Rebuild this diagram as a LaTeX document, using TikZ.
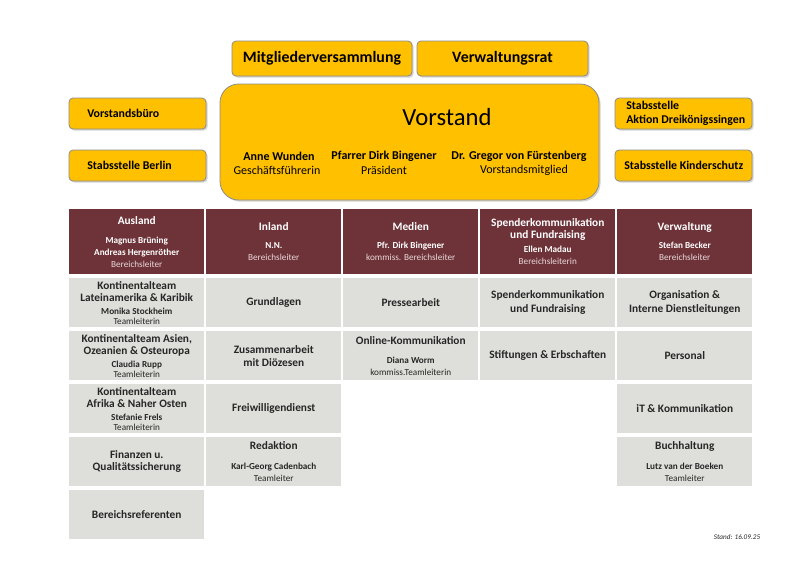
\documentclass[tikz,border=0pt]{standalone}
\usepackage{fontspec}
\setmainfont{Carlito}
\usetikzlibrary{shadows}
\definecolor{gold}{HTML}{FFC000}
\definecolor{maroon}{HTML}{6D3339}
\definecolor{cellgray}{HTML}{DEDFDA}
\definecolor{txt}{HTML}{262626}
\definecolor{rolecol}{HTML}{E8D8DA}
\definecolor{goldedge}{HTML}{8C8C8C}
\newcommand\ttl{\fontsize{8.5}{9}\selectfont\bfseries}
\newcommand\nm{\fontsize{6.9}{9}\selectfont\bfseries}
\newcommand\rl{\fontsize{6.9}{9}\selectfont}
\tikzset{
  goldbox/.style={draw=goldedge, line width=0.6pt, fill=gold, rounded corners=3pt,
    drop shadow={shadow xshift=1.2pt, shadow yshift=-1.2pt, opacity=0.35}},
  headcell/.style={fill=maroon, text=white, anchor=north west, inner sep=0pt, align=center,
    minimum width=101.25pt, minimum height=48.75pt, font=\fontsize{6.9}{9}\selectfont},
  graycell/.style={fill=cellgray, text=txt, anchor=north west, inner sep=0pt, align=center,
    minimum width=101.25pt, minimum height=36.75pt, font=\fontsize{6.9}{9}\selectfont},
  boxtext/.style={font=\fontsize{8.9}{10.5}\selectfont\bfseries, text=black, align=left, inner sep=0pt},
  vname/.style={font=\fontsize{9}{10}\selectfont\bfseries},
  vrole/.style={font=\fontsize{9}{10}\selectfont},
}
\begin{document}
\begin{tikzpicture}[x=0.75pt, y=-0.75pt]
\useasboundingbox (0,0) rectangle (800,565);
% top boxes
\draw[goldbox] (232,41) rectangle (412,76) node[midway, font=\fontsize{11.9}{13}\selectfont\bfseries] (mv) {Mitgliederversammlung};
\draw[goldbox] (417,41) rectangle (588,76) node[midway, font=\fontsize{11.9}{13}\selectfont\bfseries] (vr) {Verwaltungsrat};
\draw[goldbox, rounded corners=14pt] (220,84) rectangle (599,200);
\node[font=\fontsize{18.5}{20}\selectfont] (vs) at (447,117) {Vorstand};
\node[vname] (n1) at (279,156) {Anne Wunden};
\node[vname] (n2) at (384,156) {Pfarrer Dirk Bingener};
\node[vname] (n3) at (519,156) {Dr. Gregor von Fürstenberg};
\node[vrole] (r1) at (277,170) {Geschäftsführerin};
\node[vrole] (r2) at (384,170) {Präsident};
\node[vrole] (r3) at (524,170) {Vorstandsmitglied};
% side boxes
\draw[goldbox] (69,98) rectangle (206,129);
\node[boxtext, anchor=west] (vb) at (87,113.5) {Vorstandsbüro};
\draw[goldbox] (69,150) rectangle (206,181);
\node[boxtext, anchor=west] (sb) at (87,165.5) {Stabsstelle Berlin};
\draw[goldbox] (615,98) rectangle (752,129);
\node[boxtext, anchor=west] (sd) at (626,113.5) {Stabsstelle\\Aktion Dreikönigssingen};
\draw[goldbox] (615,150) rectangle (752,181);
\node[boxtext, anchor=west] (sk) at (624,165.5) {Stabsstelle Kinderschutz};
% header row
\node[headcell] (h1) at (69,209) {{\ttl Ausland}\\[5pt]{\nm Magnus Brüning}\\{\nm Andreas Hergenröther}\\{\rl\color{rolecol}Bereichsleiter}};
\node[headcell] (h2) at (206,209) {{\ttl Inland}\\[4.5pt]{\nm N.N.}\\{\rl\color{rolecol}Bereichsleiter}};
\node[headcell] (h3) at (343,209) {{\ttl Medien}\\[4.5pt]{\nm Pfr. Dirk Bingener}\\{\rl\color{rolecol}kommiss. Bereichsleiter}};
\node[headcell] (h4) at (480,209) {{\ttl Spenderkommunikation}\\{\ttl und Fundraising}\\[1.5pt]{\nm Ellen Madau}\\{\rl\color{rolecol}Bereichsleiterin}};
\node[headcell] (h5) at (617,209) {{\ttl Verwaltung}\\[4.5pt]{\nm Stefan Becker}\\{\rl\color{rolecol}Bereichsleiter}};
% row 1
\node[graycell] (c11) at (69,278) {{\ttl Kontinentalteam}\\{\ttl Lateinamerika \& Karibik}\\[0.5pt]{\nm Monika Stockheim}\\[-1.5pt]{\rl Teamleiterin}};
\node[graycell] (c12) at (206,278) {{\ttl Grundlagen}};
\node[graycell] (c13) at (343,278) {{\ttl Pressearbeit}};
\node[graycell] (c14) at (480,278) {{\ttl Spenderkommunikation}\\[1.5pt]{\ttl und Fundraising}};
\node[graycell] (c15) at (617,278) {{\ttl Organisation \&}\\[1.5pt]{\ttl Interne Dienstleitungen}};
% row 2
\node[graycell] (c21) at (69,331) {{\ttl Kontinentalteam Asien,}\\{\ttl Ozeanien \& Osteuropa}\\[0.5pt]{\nm Claudia Rupp}\\[-1.5pt]{\rl Teamleiterin}};
\node[graycell] (c22) at (206,331) {{\ttl Zusammenarbeit}\\[1pt]{\ttl mit Diözesen}};
\node[graycell] (c23) at (343,331) {{\ttl Online-Kommunikation}\\[5pt]{\nm Diana Worm}\\{\rl kommiss.Teamleiterin}};
\node[graycell] (c24) at (480,331) {{\ttl Stiftungen \& Erbschaften}};
\node[graycell] (c25) at (617,331) {{\ttl Personal}};
% row 3
\node[graycell] (c31) at (69,384) {{\ttl Kontinentalteam}\\{\ttl Afrika \& Naher Osten}\\[0.5pt]{\nm Stefanie Frels}\\[-1.5pt]{\rl Teamleiterin}};
\node[graycell] (c32) at (206,384) {{\ttl Freiwilligendienst}};
\node[graycell] (c35) at (617,384) {{\ttl iT \& Kommunikation}};
% row 4
\node[graycell] (c41) at (69,437) {{\ttl Finanzen u.}\\{\ttl Qualitätssicherung}};
\node[graycell] (c42) at (206,437) {{\ttl Redaktion}\\[6pt]{\nm Karl-Georg Cadenbach}\\{\rl Teamleiter}};
\node[graycell] (c45) at (617,437) {{\ttl Buchhaltung}\\[6pt]{\nm Lutz van der Boeken}\\{\rl Teamleiter}};
% row 5
\node[graycell] (c51) at (69,490) {{\ttl Bereichsreferenten}};
% stand
\node[font=\fontsize{5.4}{7}\selectfont\itshape, text=txt] (stand) at (737,537) {Stand: 16.09.25};
\end{tikzpicture}
\end{document}
